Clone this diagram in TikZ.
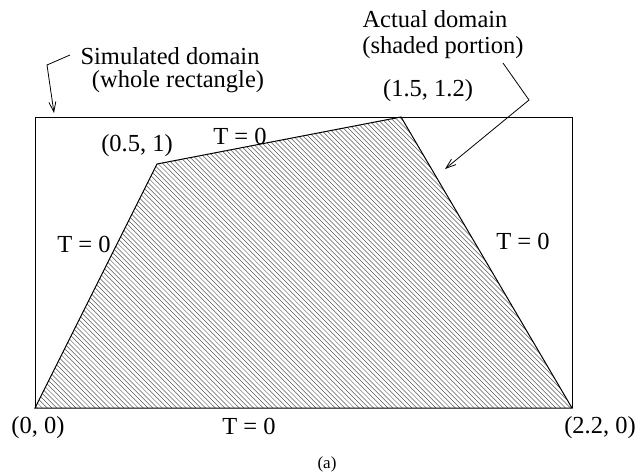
\documentclass[tikz,border=0pt]{standalone}
\usepackage{fontspec}
\setmainfont{Liberation Serif}
\usetikzlibrary{arrows.meta}
\begin{document}
\begin{tikzpicture}[x=1pt,y=-1pt,
  lbl/.style={font=\fontsize{24.5}{24}\selectfont, inner sep=0pt, align=center},
  edge/.style={line width=1pt, black},
  pointer/.style={line width=0.8pt, -{Straight Barb[length=10pt,width=7pt]}},
  hatch/.style={line width=0.5pt, black!65}]
\useasboundingbox (0,0) rectangle (637,475);
\coordinate (A) at (35,408);
\coordinate (B) at (157,164);
\coordinate (C) at (401,117);
\coordinate (D) at (572,408);
\coordinate (R1) at (35,117);
\coordinate (R2) at (572,117);
% hatching
\begin{scope}
  \clip (A) -- (B) -- (C) -- (D) -- cycle;
  \foreach \c in {-380,-375.2,...,460} {
    \draw[hatch] (\c+100,100) -- ++(330,330);
  }
\end{scope}
% rectangle and polygon
\draw[line width=0.8pt] (A) -- (R1) -- (R2) -- (D);
\draw[edge] (A) -- (B) -- (C) -- (D) -- cycle;
% labels
\node[lbl] (sim) at (170,56) {Simulated domain};
\node[lbl] (whole) at (178,82) {(whole rectangle)};
\node[lbl] (act) at (435,19) {Actual domain};
\node[lbl] (shaded) at (443,48) {(shaded portion)};
\node[lbl] (p15) at (428,91) {(1.5, 1.2)};
\node[lbl] (p05) at (137,146) {(0.5, 1)};
\node[lbl] (ttop) at (240,136) {T = 0};
\node[lbl] (tleft) at (84,244) {T = 0};
\node[lbl] (tright) at (523,241) {T = 0};
\node[lbl] (tbot) at (249,426) {T = 0};
\node[lbl] (p00) at (38,428) {(0, 0)};
\node[lbl] (p22) at (600,428) {(2.2, 0)};
\node[lbl, font=\fontsize{17}{18}\selectfont] (cap) at (327,464) {(a)};
% pointers
\coordinate (s1) at (70,55);
\coordinate (s2) at (47,65);
\coordinate (s3) at (54,113);
\draw[pointer] (s1) -- (s2) -- (s3);
\coordinate (a1) at (503,63);
\coordinate (a2) at (529,100);
\coordinate (a3) at (445,169);
\draw[pointer] (a1) -- (a2) -- (a3);
\end{tikzpicture}
\end{document}
